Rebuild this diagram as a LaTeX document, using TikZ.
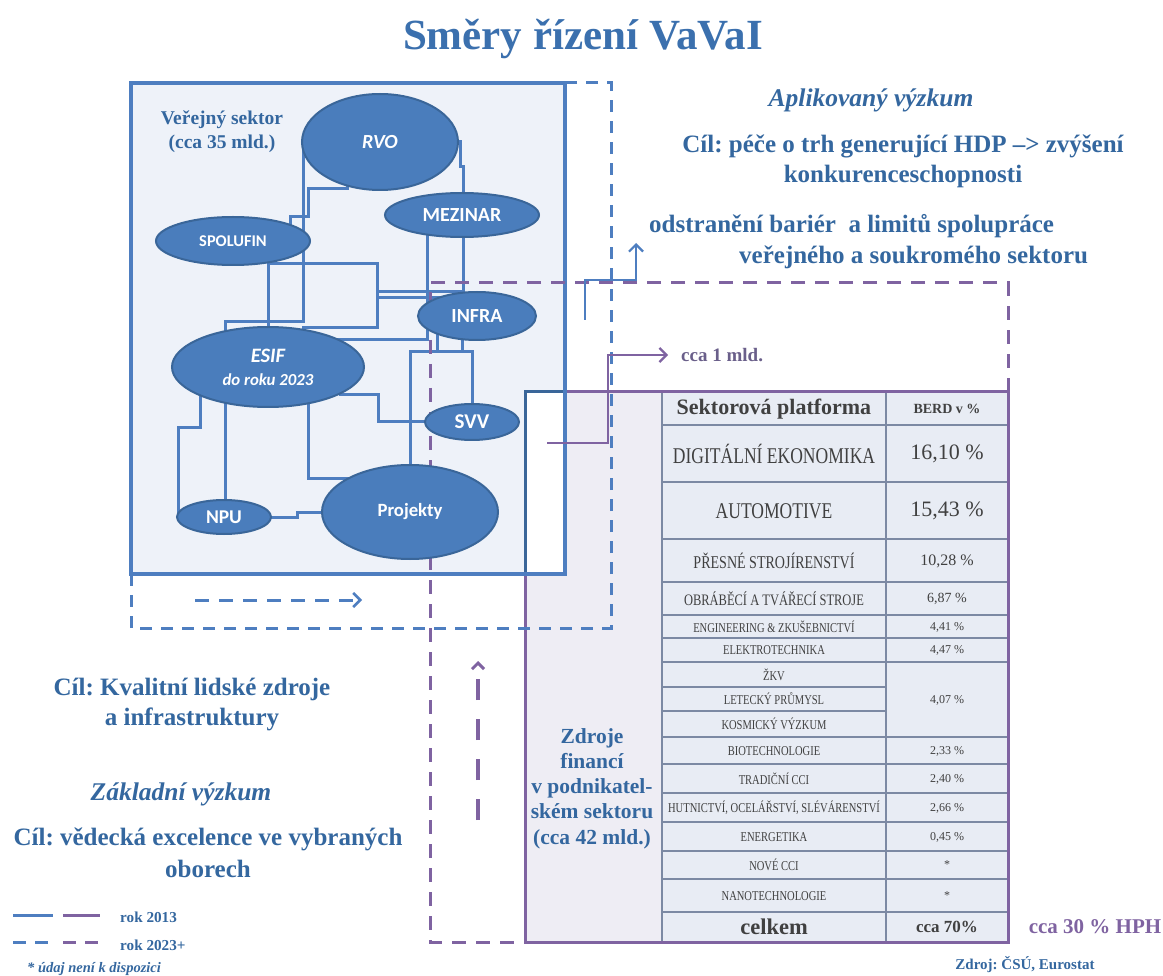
\documentclass[tikz,border=0pt]{standalone}
\usepackage{fontspec}
\usepackage{graphicx}
\setmainfont{Liberation Serif}
\newfontfamily\calib{Carlito}
\usetikzlibrary{shapes.geometric,arrows.meta}
\pgfdeclarelayer{back}
\pgfdeclarelayer{mid}
\pgfsetlayers{back,mid,main}
\frenchspacing

\definecolor{titleblue}{HTML}{3B70AE}
\definecolor{tblue}{HTML}{34679F}
\definecolor{lblue}{HTML}{4E7EC0}
\definecolor{eblue}{HTML}{4A7DBC}
\definecolor{eedge}{HTML}{3A6699}
\definecolor{boxfill}{HTML}{EEF2F9}
\definecolor{purp}{HTML}{7F63A1}
\definecolor{lav}{HTML}{EEEDF4}
\definecolor{cellfill}{HTML}{E8ECF4}
\definecolor{grid}{HTML}{7C89A3}
\definecolor{ttext}{HTML}{404040}
\definecolor{mldtxt}{HTML}{6A5F8A}

% condensed serif text for the table rows
\newcommand{\cnd}[2]{{\fontsize{#1}{#1}\selectfont\scalebox{0.78}[1]{#2}}}
\newcommand{\fs}[1]{\fontsize{#1}{#1}\selectfont}

\tikzset{
  oval/.style={ellipse, draw=eedge, line width=2pt, fill=eblue, inner sep=0pt,
               text=white, align=center, font=\calib\bfseries\fs{20}},
  conn/.style={draw=lblue, line width=3pt},
  btxt/.style={text=tblue, inner sep=0pt, anchor=base, font=\bfseries\fs{25}},
  cell/.style={text=ttext, inner sep=0pt, anchor=center},
  gridline/.style={draw=grid, line width=1.2pt},
  bdash/.style={draw=lblue, line width=3pt, dash pattern=on 12pt off 9pt},
  pdash/.style={draw=purp, line width=3pt, dash pattern=on 14pt off 10pt},
  barb/.style={-{Straight Barb[length=7pt,width=14pt,line width=2.2pt]}}
}

\begin{document}
\begin{tikzpicture}[x=1pt,y=-1pt]
\useasboundingbox (0,0) rectangle (1163,976);

% ---------- background fills ----------
\begin{pgfonlayer}{back}
  \fill[white] (0,0) rectangle (1163,976);
  \fill[lav] (525,392) rectangle (1008,942);
  \fill[cellfill] (662,392) rectangle (1008,942);
  \fill[boxfill] (131,83) rectangle (565,574);
  \fill[white] (525,392) rectangle (565,574);
\end{pgfonlayer}

% ---------- public sector actors ----------
\node[oval, minimum width=156pt, minimum height=96pt] (rvo) at (380,142) {\itshape RVO};
\node[oval, minimum width=154pt, minimum height=44pt] (mez) at (462,215) {MEZINAR};
\node[oval, minimum width=154pt, minimum height=48pt, font=\calib\bfseries\fs{16.4}] (spo) at (233,241) {SPOLUFIN};
\node[oval, minimum width=118pt, minimum height=48pt] (infra) at (477,316) {INFRA};
\node[oval, minimum width=192pt, minimum height=80pt] (esif) at (268,367)
  {\itshape\fs{20.5}ESIF\\[3pt]\itshape\fs{16.8}do roku 2023};
\node[oval, minimum width=94pt, minimum height=36pt, font=\calib\bfseries\fs{21}] (svv) at (472,422) {SVV};
\node[oval, minimum width=94pt, minimum height=34pt, font=\calib\bfseries\fs{19.5}] (npu) at (224,517) {NPU};
\node[oval, minimum width=176pt, minimum height=94pt, font=\calib\bfseries\fs{18.7}] (proj) at (410,512) {Projekty};

% free ends of the two solid arrows
\coordinate (upstart) at (585,320);
\coordinate (uptip) at (636,243);
\coordinate (pstart) at (547,443);
\coordinate (ptip) at (668,355);

\begin{pgfonlayer}{mid}
  % links between the actors
  \draw[conn] (303,0 |- rvo.center) -- (303,322) -- (225,322) -- (225,0 |- esif.center);
  \draw[conn] (347,0 |- rvo.center) -- (347,189) -- (308,189) -- (308,217) -- (290,217) -- (290,0 |- spo.center);
  \draw[conn] (268,0 |- spo.center) -- (268,0 |- esif.center);
  \draw[conn] (268,264) -- (377,264) -- (377,328) -- (303,328) -- (303,0 |- esif.center);
  \draw[conn] (377,292) -- (463,292);
  \draw[conn] (377,298) -- (infra.center |- 0,298);
  \draw[conn] (320,0 |- esif.center) -- (320,340) -- (427,340) -- (427,0 |- mez.center);
  \draw[conn] (rvo.center) -- (460,0 |- rvo.center) -- (460,167) -- (463,167) -- (463,0 |- mez.center);
  \draw[conn] (463,0 |- mez.center) -- (463,0 |- infra.center);
  \draw[conn] (437,0 |- infra.center) -- (437,352);
  \draw[conn] (462,0 |- infra.center) -- (462,352);
  \draw[conn] (410,0 |- proj.center) -- (410,352) -- (472,352) -- (472,0 |- svv.center);
  \draw[conn] (340,0 |- esif.center) -- (340,395) -- (378,395) -- (378,0 |- svv.center) -- (svv.center);
  \draw[conn] (308,0 |- esif.center) -- (308,478) -- (proj.center |- 0,478);
  \draw[conn] (225,0 |- esif.center) -- (225,0 |- npu.center);
  \draw[conn] (200,0 |- esif.center) -- (200,428) -- (178,428) -- (178,0 |- npu.center);
  \draw[conn] (npu.center) -- (297,0 |- npu.center) -- (297,512) -- (proj.center);

  % table grid
  \draw[gridline] (662,392) -- (662,942);
  \draw[gridline] (886,392) -- (886,942);
  \foreach \yy in {425,482,539,582,615,638,662,737,764,793,822,851,879,912}
    \draw[gridline] (662,\yy) -- (1008,\yy);
  \foreach \yy in {687,711}
    \draw[gridline] (662,\yy) -- (886,\yy);

  % public sector box and business sector frame
  \draw[draw=purp, line width=3pt] (525,392) rectangle (1008,942);
  \draw[draw=eedge, line width=3pt] (525,574) -- (525,392) -- (565,392);
  \draw[draw=eedge, line width=3pt] (525,574) -- (565,574);
  \draw[draw=lblue, line width=3.5pt] (131,83) rectangle (565,574);

  % 2023+ outlines
  \draw[pdash] (1008,392) -- (1008,283) -- (430,283) -- (430,942) -- (525,942);
  \draw[bdash] (131,574) -- (131,628) -- (611,628) -- (611,83) -- (565,83);
  \draw[bdash, dash pattern=on 14pt off 10pt, -{Straight Barb[length=7pt,width=14pt,line width=2.5pt]}]
    (195,600) -- (362,600);
  \draw[draw=purp, line width=4.5pt, dash pattern=on 21pt off 19pt,
        -{Straight Barb[length=6pt,width=12pt,line width=3pt]}] (478,820) -- (478,661);

  % solid arrows
  \draw[draw=lblue, line width=2.6pt, barb] (upstart) -- (585,280) -- (636,280) -- (uptip);
  \draw[draw=purp, line width=2.6pt, barb] (pstart) -- (608,443) -- (608,355) -- (ptip);
\end{pgfonlayer}

% ---------- titles and goals ----------
\node[text=titleblue, inner sep=0pt, anchor=base, font=\bfseries\fs{43}] (title) at (583,50) {Směry řízení VaVaI};

\node[btxt, font=\bfseries\fs{19.5}] (vs1) at (222,125) {Veřejný sektor};
\node[btxt, font=\bfseries\fs{19.5}] (vs2) at (222,149) {(cca 35 mld.)};

\node[btxt, font=\bfseries\itshape\fs{25.5}] (apl) at (871,107) {Aplikovaný výzkum};
\node[btxt] (apl1) at (903,153) {Cíl: péče o trh generující HDP –> zvýšení};
\node[btxt] (apl2) at (903,183) {konkurenceschopnosti};
\node[btxt, anchor=base west] (bar1) at (649,233) {odstranění bariér\ \ a limitů spolupráce};
\node[btxt, anchor=base west] (bar2) at (739,264) {veřejného a soukromého sektoru};

\node[btxt, text=mldtxt, anchor=base west, font=\bfseries\fs{19}] (mld) at (681,362) {cca 1 mld.};

\node[btxt] (kv1) at (192,695) {Cíl: Kvalitní lidské zdroje};
\node[btxt] (kv2) at (192,725) {a infrastruktury};
\node[btxt, font=\bfseries\itshape\fs{25.5}] (zak) at (181,800) {Základní výzkum};
\node[btxt] (ex1) at (208,845) {Cíl: vědecká excelence ve vybraných};
\node[btxt] (ex2) at (208,877) {oborech};

% business sector label
\node[btxt, font=\bfseries\fs{21.5}] (zf1) at (592,743) {Zdroje};
\node[btxt, font=\bfseries\fs{21.5}] (zf2) at (592,768) {financí};
\node[btxt, font=\bfseries\fs{21.5}] (zf3) at (592,793) {v podnikatel-};
\node[btxt, font=\bfseries\fs{21.5}] (zf4) at (592,818) {ském sektoru};
\node[btxt, font=\bfseries\fs{21.5}] (zf5) at (592,844) {(cca 42 mld.)};

% ---------- table ----------
\node[cell, font=\bfseries\fs{22}] (h1) at (774,409) {Sektorová platforma};
\node[cell, font=\bfseries\fs{14}] (h2) at (947,409) {BERD v \%};
\node[cell] (a1) at (774,454) {\cnd{22.5}{DIGITÁLNÍ EKONOMIKA}};
\node[cell, font=\fs{22}] (a2) at (947,454) {16,10 \%};
\node[cell] (b1) at (774,511) {\cnd{22.5}{AUTOMOTIVE}};
\node[cell, font=\fs{22}] (b2) at (947,511) {15,43 \%};
\node[cell] (c1) at (774,561) {\cnd{18}{PŘESNÉ STROJÍRENSTVÍ}};
\node[cell, font=\fs{16}] (c2) at (947,561) {10,28 \%};
\node[cell] (d1) at (774,599) {\cnd{16}{OBRÁBĚCÍ A TVÁŘECÍ STROJE}};
\node[cell, font=\fs{14}] (d2) at (947,599) {6,87 \%};
\node[cell] (e1) at (774,627) {\cnd{13.5}{ENGINEERING \& ZKUŠEBNICTVÍ}};
\node[cell, font=\fs{12}] (e2) at (947,627) {4,41 \%};
\node[cell] (f1) at (774,650) {\cnd{13.5}{ELEKTROTECHNIKA}};
\node[cell, font=\fs{12}] (f2) at (947,650) {4,47 \%};
\node[cell] (g1) at (774,675) {\cnd{13.5}{ŽKV}};
\node[cell] (g2) at (774,699) {\cnd{13.5}{LETECKÝ PRŮMYSL}};
\node[cell] (g3) at (774,724) {\cnd{13.5}{KOSMICKÝ VÝZKUM}};
\node[cell, font=\fs{12}] (g4) at (947,700) {4,07 \%};
\node[cell] (i1) at (774,751) {\cnd{13.5}{BIOTECHNOLOGIE}};
\node[cell, font=\fs{12}] (i2) at (947,751) {2,33 \%};
\node[cell] (j1) at (774,779) {\cnd{13.5}{TRADIČNÍ CCI}};
\node[cell, font=\fs{12}] (j2) at (947,779) {2,40 \%};
\node[cell] (k1) at (774,808) {\cnd{13.5}{HUTNICTVÍ, OCELÁŘSTVÍ, SLÉVÁRENSTVÍ}};
\node[cell, font=\fs{12}] (k2) at (947,808) {2,66 \%};
\node[cell] (l1) at (774,837) {\cnd{13.5}{ENERGETIKA}};
\node[cell, font=\fs{12}] (l2) at (947,837) {0,45 \%};
\node[cell] (m1) at (774,865) {\cnd{13.5}{NOVÉ CCI}};
\node[cell, font=\fs{12}] (m2) at (947,865) {*};
\node[cell] (n1) at (774,896) {\cnd{13.5}{NANOTECHNOLOGIE}};
\node[cell, font=\fs{12}] (n2) at (947,896) {*};
\node[cell, font=\bfseries\fs{22.5}] (o1) at (774,927) {celkem};
\node[cell, font=\bfseries\fs{17}] (o2) at (947,927) {cca 70\%};

\node[text=purp, inner sep=0pt, font=\bfseries\fs{21}] (hph) at (1095,927) {cca 30 \% HPH};
\node[text=tblue, inner sep=0pt, font=\bfseries\fs{15}] (src) at (1025,965) {Zdroj: ČSÚ, Eurostat};

% ---------- legend ----------
\draw[draw=lblue, line width=3pt] (13,915) coordinate (lg1) -- (53,915) coordinate (lg2);
\draw[draw=purp, line width=3pt] (63,915) coordinate (lg3) -- (100,915) coordinate (lg4);
\draw[bdash, dash pattern=on 13pt off 9pt] (13,942) coordinate (lg5) -- (48,942) coordinate (lg6);
\draw[pdash, dash pattern=on 13pt off 9pt] (63,942) coordinate (lg7) -- (98,942) coordinate (lg8);
\node[btxt, anchor=base west, font=\bfseries\fs{15.2}] (r13) at (120,922) {rok 2013};
\node[btxt, anchor=base west, font=\bfseries\fs{15.2}] (r23) at (120,950) {rok 2023+};
\node[btxt, anchor=base west, font=\bfseries\itshape\fs{14.5}] (note) at (27,972) {* údaj není k dispozici};
\end{tikzpicture}
\end{document}
